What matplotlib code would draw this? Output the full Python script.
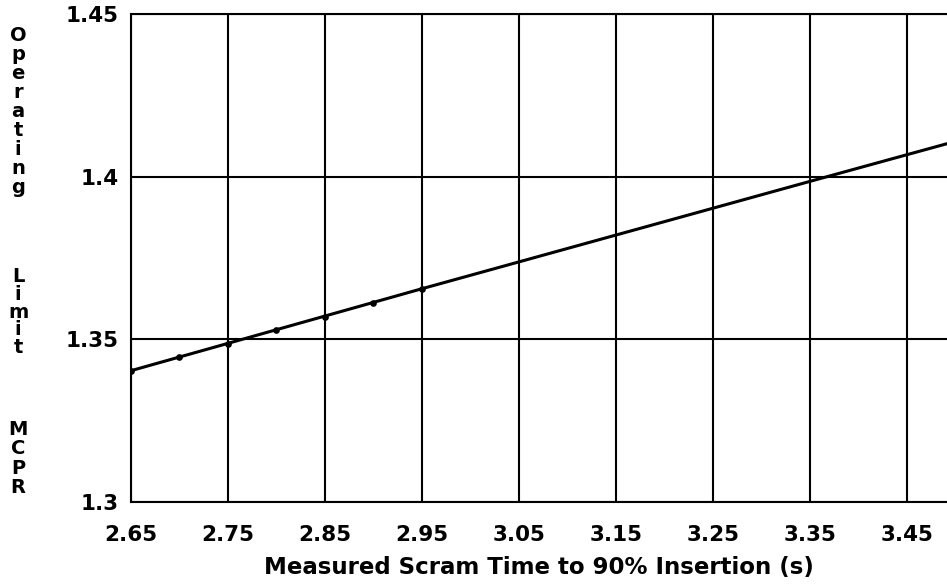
import numpy as np
import matplotlib
matplotlib.use("Agg")
import matplotlib.pyplot as plt

# measured points (with dots)
scram_time = [2.65, 2.70, 2.75, 2.80, 2.85, 2.90, 2.95]
oplim_mcpr = [1.3403, 1.3444, 1.3485, 1.3527, 1.3569, 1.3612, 1.3655]

# continuation of the limit line beyond the measured points
line_time = [2.65, 2.95, 3.35, 3.45, 3.50]
line_mcpr = [1.3403, 1.3655, 1.3985, 1.4067, 1.4108]

x_ticks = [2.65, 2.75, 2.85, 2.95, 3.05, 3.15, 3.25, 3.35, 3.45]
x_ticklabels = ["2.65", "2.75", "2.85", "2.95", "3.05", "3.15", "3.25", "3.35", "3.45"]
y_ticks = [1.30, 1.35, 1.40, 1.45]
y_ticklabels = ["1.3", "1.35", "1.4", "1.45"]

xlabel = "Measured Scram Time to 90% Insertion (s)"
ylabel_words = ["Operating", "Limit", "MCPR"]

plt.rcParams["font.family"] = ["DejaVu Sans"]

W, H = 947, 585
fig = plt.figure(figsize=(W / 100, H / 100), dpi=100)
ax = fig.add_axes([131 / W, 1 - 501.7 / H, 1 - 131 / W, (501.7 - 14) / H])

ax.plot(line_time, line_mcpr, color="black", lw=2.2, solid_capstyle="butt", zorder=3)
ax.plot(scram_time, oplim_mcpr, "o", color="black", ms=3.8, zorder=4)

ax.set_xlim(2.65, 3.4916)
ax.set_ylim(1.30, 1.45)
ax.set_xticks(x_ticks)
ax.set_xticklabels(x_ticklabels)
ax.set_yticks(y_ticks)
ax.set_yticklabels(y_ticklabels)

ax.grid(True, color="black", lw=1.5)
ax.set_axisbelow(True)
ax.tick_params(length=0, labelsize=15.5)
ax.tick_params(axis="x", pad=17)
ax.tick_params(axis="y", pad=9)
for lab in ax.get_xticklabels() + ax.get_yticklabels():
    lab.set_fontweight("bold")

for side in ["left", "bottom", "top"]:
    ax.spines[side].set_linewidth(1.5)
ax.spines["right"].set_visible(False)

ax.set_xlabel(xlabel, fontsize=16.5, fontweight="bold", labelpad=8)

# stacked y-label letters (baseline pixel of first letter, pitch in px)
word_layout = [(41, 19.0), (282, 17.8), (435, 19.4)]
for word, (base, pitch) in zip(ylabel_words, word_layout):
    for i, ch in enumerate(word):
        fig.text(18 / W, 1 - (base + i * pitch) / H, ch, ha="center", va="baseline",
                 fontsize=14, fontweight="bold")

fig.savefig("out.png", dpi=100)
